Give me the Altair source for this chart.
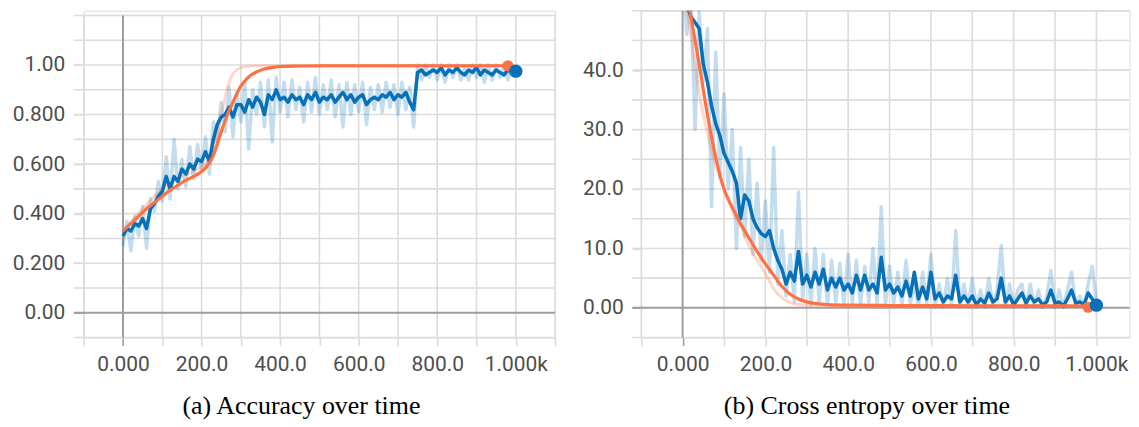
import altair as alt
import pandas as pd

# ---------------- data ----------------
STEPS = list(range(0, 1001, 10))

ACC_RAW = [
    .27, .37, .25, .39, .31, .43, .26, .46, .41, .53,
    .45, .63, .46, .70, .50, .62, .51, .67, .54, .68,
    .57, .71, .56, .77, .69, .85, .73, .91, .71, .89,
    .77, .93, .66, .90, .80, .93, .75, .94, .69, .95,
    .81, .93, .79, .94, .82, .91, .77, .93, .81, .95,
    .80, .92, .82, .94, .79, .92, .75, .93, .80, .92,
    .81, .93, .76, .91, .82, .92, .81, .93, .83, .92,
    .80, .93, .82, .91, .75, 1.0, .94, 1.0, .95, 1.0,
    .94, 1.0, .93, 1.0, .95, 1.0, .94, .99, .94, 1.0,
    .95, 1.0, .93, 1.0, .94, 1.0, .95, 1.0, .94, 1.0,
    .96,
]
ACC_SMOOTH = [
    .31, .34, .33, .36, .35, .38, .34, .42, .44, .47,
    .49, .55, .50, .55, .53, .58, .56, .60, .58, .62,
    .61, .65, .61, .70, .76, .79, .80, .83, .79, .84,
    .84, .81, .86, .83, .87, .85, .80, .88, .86, .90,
    .86, .87, .85, .88, .86, .87, .84, .88, .86, .89,
    .85, .87, .86, .88, .85, .87, .89, .86, .88, .85,
    .87, .88, .84, .86, .87, .86, .88, .87, .89, .86,
    .88, .87, .89, .85, .82, .97, .98, .96, .97, .98,
    .97, .99, .96, .98, .97, .99, .97, .96, .98, .97,
    .99, .96, .98, .97, .96, .98, .97, .96, .98, .97,
    .975,
]
ACC_EVAL_X = [0, 20, 40, 60, 80, 100, 120, 140, 160, 180, 200, 210, 220, 230, 240,
              250, 260, 270, 280, 290, 300, 310, 320, 340, 360, 380, 400, 450, 500,
              600, 700, 800, 900, 980]
ACC_EVAL = [.33, .36, .39, .42, .445, .47, .495, .515, .535, .55, .57, .585, .605, .635, .68,
            .73, .775, .815, .85, .885, .915, .935, .952, .972, .984, .99, .994, .996, .997,
            .997, .997, .997, .997, .997]
ACC_EVAL_RAW_X = [0, 50, 100, 150, 200, 220, 230, 240, 250, 260, 270, 280, 290, 300, 320,
                  360, 400, 500, 600, 700, 800, 900, 980]
ACC_EVAL_RAW = [.33, .42, .50, .55, .59, .62, .66, .72, .80, .87, .93, .965, .98, .99, .995,
                .997, .997, .997, .997, .997, .997, .997, .997]
ACC_MARK_X = [1000, 980]
ACC_MARK_Y = [0.975, 0.997]

CE_RAW = [
    58, 46, 52, 30, 50, 38, 47, 17, 43, 22,
    36, 20, 30, 10, 27, 12, 25, 9, 21, 8,
    18, 6, 27, 4, 13, 2, 9, 1, 19.5, 1.5,
    9, 0.5, 10, 1, 9, 0.5, 8, 1, 7.5, 0.5,
    9, 0.8, 8, 0.5, 7, 1, 10, 0.5, 17, 0.5,
    7, 0.5, 6, 0.3, 8, 0.5, 4, 0.3, 6, 0.5,
    9, 0.3, 4, 0.2, 5, 0.3, 13, 0.2, 4, 0.3,
    5, 0.2, 3, 0.2, 5, 0.3, 3, 10.5, 0.2, 4,
    0.2, 3, 4, 0.1, 4, 0.2, 3, 0.1, 2, 6.3,
    0.1, 3, 0.1, 3, 6, 0.2, 2, 0.1, 4, 7,
    1,
]
CE_SMOOTH = [
    55, 51, 49, 48, 47, 41, 38, 34, 31, 29,
    26, 24.5, 23, 21, 15, 19, 18, 15, 13.5, 12.5,
    12, 13, 10, 8, 6.5, 4, 6, 4.5, 9.5, 4,
    5.5, 3.5, 6, 4, 6.5, 3, 5, 3.5, 5, 3,
    4, 2.5, 5.5, 3, 5.5, 3, 4, 2.5, 8.5, 3,
    4, 2.5, 3.5, 2, 4.5, 2, 6, 1.5, 3.5, 1.5,
    6, 1.5, 2.5, 1, 2, 1.5, 5.5, 1, 2, 1,
    2, 0.5, 1.5, 0.8, 2.5, 1, 1.5, 5, 1, 2,
    0.5, 1.5, 2.5, 0.8, 2, 1, 1.5, 0.5, 1, 3,
    0.8, 1, 0.3, 1.5, 3, 0.8, 1, 0.5, 2.5, 1.5,
    0.5,
]
CE_EVAL_X = [0, 20, 40, 60, 80, 100, 120, 140, 160, 180, 200, 220, 240, 260, 280, 300,
             320, 350, 400, 500, 600, 700, 800, 900, 980]
CE_EVAL = [57, 49, 41, 32.5, 25.3, 20, 16.9, 14.2, 11.8, 9.5, 7.4, 5.5, 3.6, 2.3, 1.5, 1.0,
           0.75, 0.55, 0.45, 0.4, 0.38, 0.35, 0.35, 0.33, 0.3]
CE_EVAL_RAW_X = [0, 10, 20, 40, 60, 80, 100, 120, 140, 160, 180, 200, 220, 240, 260, 280,
                 300, 400, 500, 600, 700, 800, 900, 980]
CE_EVAL_RAW = [54, 50.5, 46, 36, 29.5, 24, 20, 16.5, 13.7, 10.5, 8.0, 5.8, 3.2, 1.7, 0.9,
               0.55, 0.45, 0.4, 0.35, 0.33, 0.3, 0.3, 0.3, 0.3]
CE_MARK_X = [1000, 980]
CE_MARK_Y = [0.45, 0.1]

X_TICKS = [-100, 0, 100, 200, 300, 400, 500, 600, 700, 800, 900, 1000, 1100]
X_LABELS = {0: "0.000", 200: "200.0", 400: "400.0", 600: "600.0", 800: "800.0", 1000: "1.000k"}
ACC_GRID = [-0.1, 0.0, 0.1, 0.2, 0.3, 0.4, 0.5, 0.6, 0.7, 0.8, 0.9, 1.0, 1.1, 1.2]
ACC_LABELS = {0.0: "0.00", 0.2: "0.200", 0.4: "0.400", 0.6: "0.600", 0.8: "0.800", 1.0: "1.00"}
CE_GRID = [-5, 0, 5, 10, 15, 20, 25, 30, 35, 40, 45, 50]
CE_LABELS = {0: "0.00", 10: "10.0", 20: "20.0", 30: "30.0", 40: "40.0"}

# ---------------- style ----------------
BLUE = "#0670b8"
ORANGE = "#ff7043"
GRID = "#dcdcdc"
ZERO = "#9e9e9e"
LABEL = "#4d4d4d"
FONT = "Roboto"


def label_expr(mapping):
    parts = []
    for k, v in mapping.items():
        parts.append(f"abs(datum.value - ({k})) < 1e-6 ? '{v}' : ")
    return "".join(parts) + "''"


def cond_color():
    return {"condition": {"test": "abs(datum.value) < 1e-9", "value": ZERO}, "value": GRID}


def panel(x_dom, y_dom, width, height, x_ticks, y_grid, y_labels, vgrid_top, ext,
          raw, smooth, ev_x, ev, evr_x, evr, mark_x, mark_y, caption, cap_dx):
    xs = alt.Scale(domain=x_dom, nice=False, zero=False)
    ys = alt.Scale(domain=y_dom, nice=False, zero=False)
    y_axis = alt.Axis(
        values=list(y_labels.keys()), labelExpr=label_expr(y_labels), grid=False, domain=False,
        ticks=True, tickSize=ext, tickWidth=1.6, tickColor=cond_color(),
        labelFont=FONT, labelFontSize=21, labelColor=LABEL, labelPadding=9,
        labelOverlap=False, labelFlush=False, title=None)
    x_axis = alt.Axis(
        values=x_ticks, labelExpr=label_expr(X_LABELS), grid=False, domain=False,
        ticks=True, tickSize=8, tickWidth=1.6, tickColor=cond_color(),
        labelFont=FONT, labelFontSize=21, labelColor=LABEL, labelPadding=8,
        labelOverlap=False, labelFlush=False, title=None)

    def X(field):
        return alt.X(field, scale=xs, axis=x_axis, title=None)

    def Y(field):
        return alt.Y(field, scale=ys, axis=y_axis, title=None)

    hgrid_df = pd.DataFrame({"v": [t for t in y_grid if abs(t) > 1e-9]})
    vgrid_df = pd.DataFrame({"v": [t for t in x_ticks if t != 0],
                             "y0": y_dom[0], "y1": vgrid_top})
    zero_df = pd.DataFrame({"v": [0], "y0": [y_dom[0]], "y1": [vgrid_top]})

    hgrid = alt.Chart(hgrid_df).mark_rule(color=GRID, strokeWidth=1.6).encode(
        y=Y("v:Q"), x=alt.value(-ext), x2=alt.value(width))
    vgrid = alt.Chart(vgrid_df).mark_rule(color=GRID, strokeWidth=1.6).encode(
        x=X("v:Q"), y=Y("y0:Q"), y2="y1:Q")
    zero_h = alt.Chart(zero_df).mark_rule(color=ZERO, strokeWidth=2).encode(
        y=Y("v:Q"), x=alt.value(-ext), x2=alt.value(width))
    zero_v = alt.Chart(zero_df).mark_rule(color=ZERO, strokeWidth=2).encode(
        x=X("v:Q"), y=Y("y0:Q"), y2="y1:Q")

    def line(xv, yv, color, width_px, opacity, interp="linear"):
        df = pd.DataFrame({"x": xv, "y": yv})
        return alt.Chart(df).mark_line(color=color, strokeWidth=width_px, opacity=opacity,
                                       clip=True, strokeJoin="round",
                                       interpolate=interp).encode(x=X("x:Q"), y=Y("y:Q"))

    raw_l = line(STEPS, raw, BLUE, 3.5, 0.24)
    smooth_l = line(STEPS, smooth, BLUE, 3.5, 1.0)
    evr_l = line(evr_x, evr, ORANGE, 3, 0.28, "monotone")
    ev_l = line(ev_x, ev, ORANGE, 3.2, 1.0, "monotone")

    mdf = pd.DataFrame({"x": mark_x, "y": mark_y, "c": ["blue", "orange"]})
    m_or = alt.Chart(mdf[mdf.c == "orange"]).mark_circle(color=ORANGE, opacity=1, size=125).encode(
        x=X("x:Q"), y=Y("y:Q"))
    m_bl = alt.Chart(mdf[mdf.c == "blue"]).mark_circle(color=BLUE, opacity=1, size=180).encode(
        x=X("x:Q"), y=Y("y:Q"))

    return alt.layer(hgrid, vgrid, zero_h, zero_v, raw_l, evr_l, smooth_l, ev_l, m_or, m_bl).properties(
        width=width, height=height,
        title=alt.TitleParams(text=caption, orient="bottom", anchor="middle",
                              font="Liberation Serif", fontSize=26, fontWeight="normal",
                              color="#000000", offset=19, dx=cap_dx))


left = panel([-100, 1100], [-0.1, 1.219], 473, 328, X_TICKS, ACC_GRID, ACC_LABELS, 1.2, 10,
             ACC_RAW, ACC_SMOOTH, ACC_EVAL_X, ACC_EVAL, ACC_EVAL_RAW_X, ACC_EVAL_RAW,
             ACC_MARK_X, ACC_MARK_Y, "(a) Accuracy over time", -18)
right = panel([-100, 1080], [-5, 50], 490, 328, X_TICKS[:-1], CE_GRID, CE_LABELS, 50, 9,
              CE_RAW, CE_SMOOTH, CE_EVAL_X, CE_EVAL, CE_EVAL_RAW_X, CE_EVAL_RAW,
              CE_MARK_X, CE_MARK_Y, "(b) Cross entropy over time", -18.5)

chart = alt.hconcat(left, right, spacing=24.5).properties(
    padding={"left": 3, "top": 0, "right": 0, "bottom": 0}
).configure_view(stroke=None).configure(background="white")

chart.save("out.html", embed_options={"renderer": "svg", "actions": False})
